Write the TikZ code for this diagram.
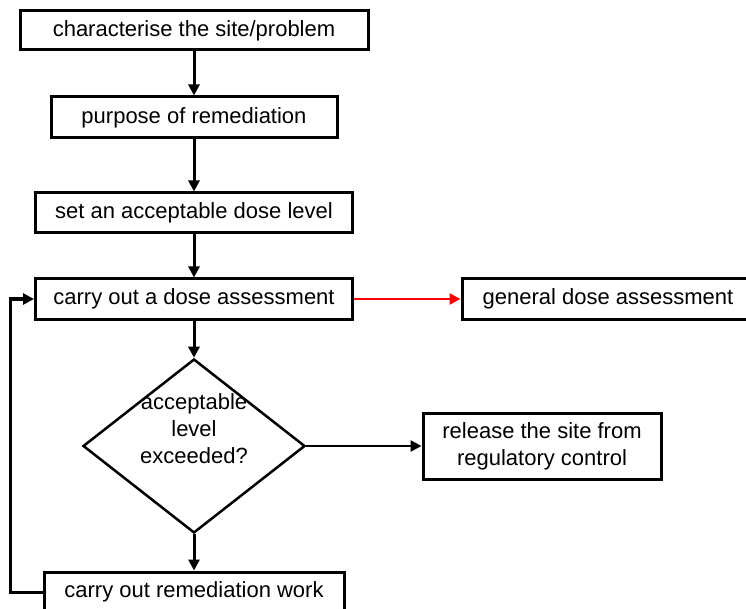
\documentclass[tikz,border=0pt]{standalone}
\usepackage{fontspec}
\setmainfont{Liberation Sans}
\usetikzlibrary{shapes.geometric, arrows.meta}

\begin{document}
\begin{tikzpicture}[
  x=1pt, y=-1pt,
  font=\fontsize{22}{27}\selectfont,
  >={Triangle[length=11pt,width=11pt]},
  %line join=round,
  ]
  \tikzstyle{proc box}=[rectangle,draw,line width=3pt,inner sep=0,align=center]
  \tikzstyle{flow}=[->,line width=3pt]
  \useasboundingbox (0,0) rectangle (746,609);
  \node(char)[proc box, minimum width=348, minimum height=39] at (194,30.5) {characterise the site/problem};
  \node(purp)[proc box, minimum width=286, minimum height=41] at (194,117.5) {purpose of remediation};
  \node(accept)[proc box, minimum width=317, minimum height=40] at (194,213) {set an acceptable dose level};
  \node(assess)[proc box, minimum width=317, minimum height=40] at (194,299) {carry out a dose assessment};
  \node(gen)[proc box, minimum width=292, minimum height=41] at (608,299) {general dose assessment};
  \node(dec)[diamond, draw, line width=2.5pt, inner sep=0, minimum width=222, minimum height=174,
    label={[align=center, yshift=17pt]center:{acceptable\\level\\exceeded?}}] at (194,446) {};
  \node(rel)[proc box, minimum width=238, minimum height=66] at (542,446) {release the site from\\regulatory control};
  \node(remed)[proc box, minimum width=300, minimum height=40] at (194,592) {carry out remediation work};
  % main line
  \draw[flow] (char) -- (purp);
  \draw[flow] (purp) -- (accept);
  \draw[flow] (accept) -- (assess);
  \draw[flow] (assess) -- (dec);
  \draw[flow] (dec) -- (remed);
  \draw[flow, red, line width=2.5pt] (assess) -- (gen);
  \draw[flow, line width=2.5pt] (dec) -- (rel);
  % back to the assessment
  \draw[flow] (remed.west) -- ++(-32,0) |- (assess.west);
\end{tikzpicture}
\end{document}
